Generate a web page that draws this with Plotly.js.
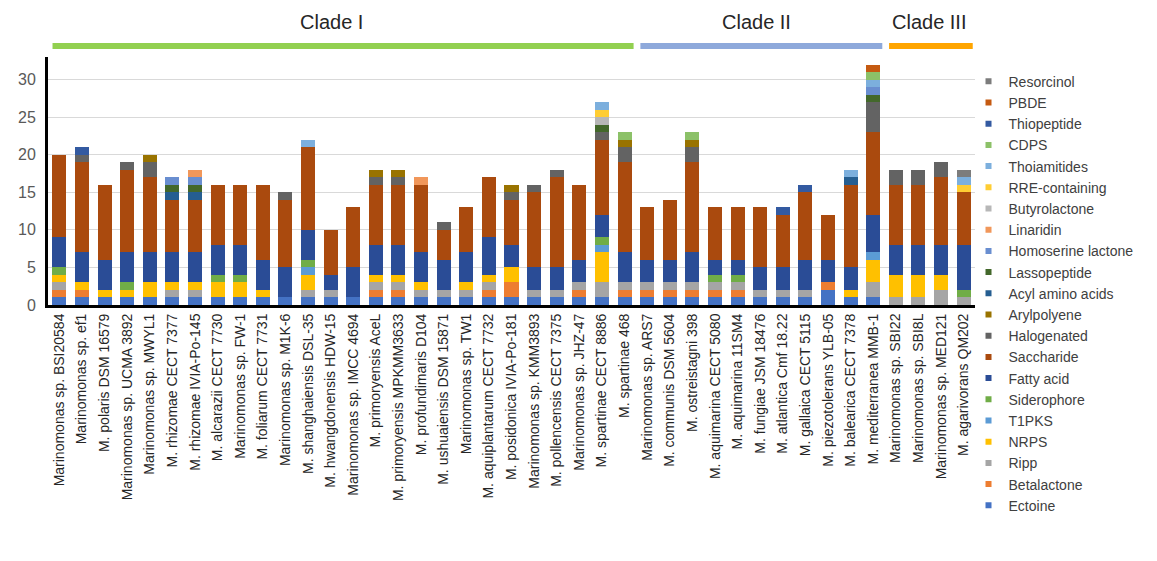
<!DOCTYPE html>
<html>
<head>
<meta charset="utf-8">
<script src="https://cdn.plot.ly/plotly-3.0.1.min.js"></script>
<style>
html,body{margin:0;padding:0;background:#fff;}
#chart{width:1157px;height:561px;}
</style>
</head>
<body>
<div id="chart"></div>
<script>
// ---- categories ----
const strains = [
  "Marinomonas sp. BSI20584","Marinomonas sp. ef1","M. polaris DSM 16579","Marinomonas sp. UCMA 3892",
  "Marinomonas sp. MWYL1","M. rhizomae CECT 7377","M. rhizomae IVIA-Po-145","M. alcarazii CECT 7730",
  "Marinomonas sp. FW-1","M. foliarum CECT 7731","Marinomonas sp. M1K-6","M. shanghaiensis DSL-35",
  "M. hwangdonensis HDW-15","Marinomonas sp. IMCC 4694","M. primoryensis AceL","M. primoryensis MPKMM3633",
  "M. profundimaris D104","M. ushuaiensis DSM 15871","Marinomonas sp. TW1","M. aquiplantarum CECT 7732",
  "M. posidonica IVIA-Po-181","Marinomonas sp. KMM3893","M. pollencensis CECT 7375","Marinomonas sp. JHZ-47",
  "M. spartinae CECT 8886","M. spartinae 468",
  "Marinomonas sp. ARS7","M. communis DSM 5604","M. ostreistagni 398","M. aquimarina CECT 5080",
  "M. aquimarina 11SM4","M. fungiae JSM 18476","M. atlantica Cmf 18.22","M. gallaica CECT 5115",
  "M. piezotolerans YLB-05","M. balearica CECT 7378","M. mediterranea MMB-1",
  "Marinomonas sp. SBI22","Marinomonas sp. SBI8L","Marinomonas sp. MED121","M. agarivorans QM202"
];
const cladeNames = ["Clade I","Clade II","Clade III"];
const cladeSizes = [26, 11, 4];
const cladeColors = ["#92D050","#8EA9DB","#FFA500"];

// ---- series values (bottom of stack first) ----
const Ectoine       = [1,1,1,1,1,1,1,1,1,1, 1,1,1,1,1,1,1,1,1,1, 1,1,1,1,1,1,1,1,1,1, 1,1,1,1,2,1,1,0,0,0,0];
const Betalactone   = [1,1,0,0,0,0,0,0,0,0, 0,0,0,0,1,1,0,0,0,1, 2,0,0,1,0,1,1,1,1,1, 1,0,0,0,1,0,0,0,0,0,0];
const Ripp          = [1,0,0,0,0,1,1,0,0,0, 0,1,1,0,1,1,1,1,1,1, 0,1,1,1,2,1,1,1,1,1, 1,1,1,1,0,0,2,1,1,2,1];
const NRPS          = [1,1,1,1,2,1,1,2,2,1, 0,2,0,0,1,1,1,0,1,1, 2,0,0,0,4,0,0,0,0,0, 0,0,0,0,0,1,3,3,3,2,0];
const T1PKS         = [0,0,0,0,0,0,0,0,0,0, 0,1,0,0,0,0,0,0,0,0, 0,0,0,0,1,0,0,0,0,0, 0,0,0,0,0,0,1,0,0,0,0];
const Siderophore   = [1,0,0,1,0,0,0,1,1,0, 0,1,0,0,0,0,0,0,0,0, 0,0,0,0,1,0,0,0,0,1, 1,0,0,0,0,0,0,0,0,0,1];
const FattyAcid     = [4,4,4,4,4,4,4,4,4,4, 4,4,2,4,4,4,4,4,4,5, 3,3,3,3,3,4,3,3,4,2, 2,3,3,4,3,3,5,4,4,4,6];
const Saccharide    = [11,12,10,11,10,7,7,8,8,10, 9,11,6,8,8,8,9,4,6,8, 6,10,12,10,10,12,7,8,12,7, 7,8,7,9,6,11,11,8,8,9,7];
const Halogenated   = [0,1,0,1,2,0,0,0,0,0, 1,0,0,0,1,1,0,1,0,0, 1,1,1,0,1,2,0,0,2,0, 0,0,0,0,0,0,4,2,2,2,0];
const Arylpolyene   = [0,0,0,0,1,0,0,0,0,0, 0,0,0,0,1,1,0,0,0,0, 1,0,0,0,0,1,0,0,1,0, 0,0,0,0,0,0,0,0,0,0,0];
const AcylAmino     = [0,0,0,0,0,1,1,0,0,0, 0,0,0,0,0,0,0,0,0,0, 0,0,0,0,0,0,0,0,0,0, 0,0,0,0,0,1,0,0,0,0,0];
const Lassopeptide  = [0,0,0,0,0,1,1,0,0,0, 0,0,0,0,0,0,0,0,0,0, 0,0,0,0,1,0,0,0,0,0, 0,0,0,0,0,0,1,0,0,0,0];
const Homoserine    = [0,0,0,0,0,1,1,0,0,0, 0,0,0,0,0,0,0,0,0,0, 0,0,0,0,0,0,0,0,0,0, 0,0,0,0,0,0,1,0,0,0,0];
const Linaridin     = [0,0,0,0,0,0,1,0,0,0, 0,0,0,0,0,0,1,0,0,0, 0,0,0,0,0,0,0,0,0,0, 0,0,0,0,0,0,0,0,0,0,0];
const Butyrolactone = [0,0,0,0,0,0,0,0,0,0, 0,0,0,0,0,0,0,0,0,0, 0,0,0,0,1,0,0,0,0,0, 0,0,0,0,0,0,0,0,0,0,0];
const RRE           = [0,0,0,0,0,0,0,0,0,0, 0,0,0,0,0,0,0,0,0,0, 0,0,0,0,1,0,0,0,0,0, 0,0,0,0,0,0,0,0,0,0,1];
const Thoiamitides  = [0,0,0,0,0,0,0,0,0,0, 0,1,0,0,0,0,0,0,0,0, 0,0,0,0,1,0,0,0,0,0, 0,0,0,0,0,1,1,0,0,0,1];
const CDPS          = [0,0,0,0,0,0,0,0,0,0, 0,0,0,0,0,0,0,0,0,0, 0,0,0,0,0,1,0,0,1,0, 0,0,0,0,0,0,1,0,0,0,0];
const Thiopeptide   = [0,1,0,0,0,0,0,0,0,0, 0,0,0,0,0,0,0,0,0,0, 0,0,0,0,0,0,0,0,0,0, 0,0,1,1,0,0,0,0,0,0,0];
const PBDE          = [0,0,0,0,0,0,0,0,0,0, 0,0,0,0,0,0,0,0,0,0, 0,0,0,0,0,0,0,0,0,0, 0,0,0,0,0,0,1,0,0,0,0];
const Resorcinol    = [0,0,0,0,0,0,0,0,0,0, 0,0,0,0,0,0,0,0,0,0, 0,0,0,0,0,0,0,0,0,0, 0,0,0,0,0,0,0,0,0,0,1];

const seriesNames = ["Ectoine","Betalactone","Ripp","NRPS","T1PKS","Siderophore","Fatty acid","Saccharide",
  "Halogenated","Arylpolyene","Acyl amino acids","Lassopeptide","Homoserine lactone","Linaridin",
  "Butyrolactone","RRE-containing","Thoiamitides","CDPS","Thiopeptide","PBDE","Resorcinol"];
const seriesValues = [Ectoine,Betalactone,Ripp,NRPS,T1PKS,Siderophore,FattyAcid,Saccharide,
  Halogenated,Arylpolyene,AcylAmino,Lassopeptide,Homoserine,Linaridin,
  Butyrolactone,RRE,Thoiamitides,CDPS,Thiopeptide,PBDE,Resorcinol];
const seriesColors = ["#4472C4","#ED7D31","#A5A5A5","#FFC000","#5B9BD5","#70AD47","#2A4C96","#AA4A0E",
  "#636363","#997300","#255E91","#43682B","#698ED0","#F1975A",
  "#B7B7B7","#FFCD33","#7CAFDD","#8CC168","#335AA1","#C55A11","#7C7C7C"];

const FONT = "Liberation Sans, Arial, sans-serif";

const traces = seriesNames.map((n,i)=>({
  type:'bar', name:n, x:strains, y:seriesValues[i],
  marker:{color:seriesColors[i], line:{width:0}},
  showlegend:false, hoverinfo:'x+y+name'
}));
// legend entries with small square markers
seriesNames.forEach((n,i)=>{
  traces.push({type:'scatter', mode:'markers', name:n, x:[null], y:[null],
    marker:{symbol:'square', size:6, color:seriesColors[i]}, showlegend:true});
});

// clade bars above the plot
const shapes = [], annotations = [];
let start = 0;
cladeSizes.forEach((sz,k)=>{
  const x0 = start - 0.3, x1 = start + sz - 1 + 0.4;
  shapes.push({type:'line', xref:'x', yref:'paper', x0:x0, x1:x1, y0:1.044, y1:1.044,
    line:{color:cladeColors[k], width:6}});
  annotations.push({xref:'x', yref:'paper', x:x0 + (x1-x0)*0.48, y:1.141, text:cladeNames[k],
    showarrow:false, font:{family:FONT, size:20, color:'#262626'}, xanchor:'center', yanchor:'middle'});
  start += sz;
});

const layout = {
  width:1157, height:561,
  margin:{l:48, r:182, t:57, b:256},
  paper_bgcolor:'#fff', plot_bgcolor:'#fff',
  barmode:'stack', bargap:0.38,
  showlegend:true,
  legend:{x:0.993, xanchor:'left', y:0.965, yanchor:'top', traceorder:'reversed',
    font:{family:FONT, size:14, color:'#404040'}, tracegroupgap:0, itemwidth:30,
    bgcolor:'rgba(0,0,0,0)', maxheight:560},
  xaxis:{type:'category', range:[-0.5, strains.length-0.5], tickangle:-90,
    tickfont:{family:FONT, size:14, color:'#262626'}, showline:true, linecolor:'#000', linewidth:3,
    ticks:'', showgrid:false, zeroline:false, automargin:false},
  yaxis:{range:[0,33], dtick:5, tick0:0, tickfont:{family:FONT, size:16, color:'#595959'},
    showline:true, linecolor:'#000', linewidth:3, ticks:'', showgrid:true, gridcolor:'#D9D9D9',
    gridwidth:1, zeroline:false, ticklabelstandoff:6, automargin:false},
  shapes:shapes, annotations:annotations
};

Plotly.newPlot('chart', traces, layout, {displayModeBar:false, staticPlot:true});
</script>
</body>
</html>
